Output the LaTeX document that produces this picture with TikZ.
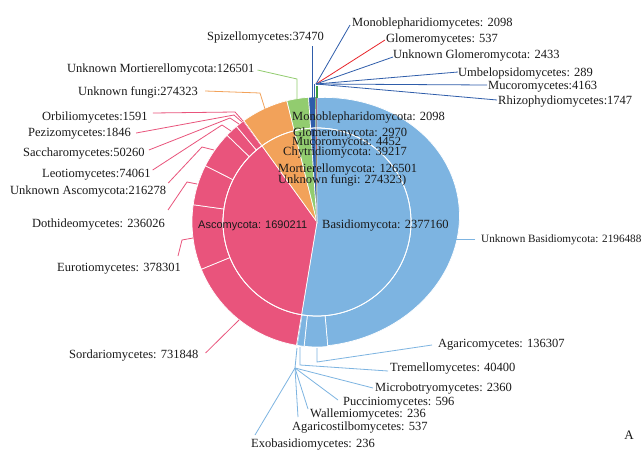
\documentclass[tikz,border=0pt]{standalone}
\usepackage{fontspec}
\setmainfont{Liberation Serif}
\newfontfamily\arialf{Liberation Sans}
\definecolor{pinkc}{HTML}{E9547C}
\definecolor{bluec}{HTML}{7DB4E1}
\definecolor{orangec}{HTML}{F2A25A}
\definecolor{greenc}{HTML}{92CC6F}
\definecolor{dkbluec}{HTML}{2F5DAA}
\definecolor{redc}{HTML}{E8262B}
\definecolor{dkgreenc}{HTML}{3C9B3C}
\definecolor{txtc}{HTML}{1A1A1A}
\newcommand\ringseg[4]{\filldraw[fill=#3,draw=white,line width=0.7pt] (#1:94) -- (#1:#4) arc[start angle=#1,end angle=#2,radius=#4] -- (#2:94) arc[start angle=#2,end angle=#1,radius=94] -- cycle;}
\newcommand\ringtiny[4]{\fill[#3] (#1:94) -- (#1:#4) arc[start angle=#1,end angle=#2,radius=#4] -- (#2:94) arc[start angle=#2,end angle=#1,radius=94] -- cycle;}
\newcommand\pieseg[3]{\filldraw[fill=#3,draw=white,line width=0.7pt] (0,0) -- (#1:94) arc[start angle=#1,end angle=#2,radius=94] -- cycle;}
\newcommand\pietiny[3]{\fill[#3] (0,0) -- (#1:94) arc[start angle=#1,end angle=#2,radius=94] -- cycle;}
\begin{document}
\begin{tikzpicture}[x=1pt,y=-1pt,
  lab/.style={inner sep=0pt,text height=8.3pt,text depth=0pt,anchor=west,text=txtc,font=\fontsize{12.5}{14}\selectfont},
  smalllab/.style={inner sep=0pt,text height=7.5pt,text depth=0pt,anchor=west,text=txtc,font=\fontsize{11.2}{13}\selectfont},
  sanslab/.style={inner sep=0pt,text height=8pt,text depth=0pt,anchor=west,text=txtc,font=\arialf\fontsize{11}{13}\selectfont},
  pinkln/.style={draw=pinkc,line width=0.8pt},
  blueln/.style={draw=bluec,line width=0.8pt},
  orangeln/.style={draw=orangec,line width=0.8pt},
  greenln/.style={draw=greenc,line width=0.8pt},
  dkblueln/.style={draw=dkbluec,line width=0.8pt},
  redln/.style={draw=redc,line width=0.8pt}]
\useasboundingbox[fill=white] (0,0) rectangle (641,450);
% ---------------- pie ----------------
\begin{scope}[shift={(317,222)}]
  % outer ring: Basidiomycota
  \filldraw[fill=bluec,draw=white,line width=0.7pt] (-90:94) -- plot[domain=-90:85.06,samples=90,variable=\t] ({\t}:{124/sqrt((0.867*cos(\t+10))^2+(sin(\t+10))^2)}) -- (85.06:94) arc[start angle=85.06,end angle=-90,radius=94] -- cycle;
  \ringseg{85.06}{95.92}{bluec}{125}
  \ringseg{95.92}{99.14}{bluec}{125}
  \ringtiny{99.14}{99.46}{bluec}{125}
  % outer ring: Ascomycota
  \ringseg{99.46}{157.79}{pinkc}{125}
  \ringseg{157.79}{187.94}{pinkc}{125}
  \ringseg{187.94}{206.75}{pinkc}{125}
  \ringseg{206.75}{223.99}{pinkc}{125}
  \ringseg{223.99}{229.89}{pinkc}{125}
  \ringseg{229.89}{233.90}{pinkc}{125}
  \ringtiny{233.90}{234.17}{pinkc}{125}
  % outer ring: other phyla
  \ringseg{234.17}{256.03}{orangec}{125}
  \ringseg{256.03}{266.12}{greenc}{125}
  \ringseg{266.12}{269.24}{dkbluec}{125}
  \ringtiny{269.24}{269.60}{dkgreenc}{125}
  \ringtiny{269.60}{269.83}{redc}{125}
  \ringtiny{269.83}{270}{dkbluec}{125}
  % inner pie
  \pieseg{-90}{99.46}{bluec}
  \pieseg{99.46}{234.17}{pinkc}
  \pieseg{234.17}{256.03}{orangec}
  \pieseg{256.03}{266.12}{greenc}
  \pieseg{266.12}{269.24}{dkbluec}
  \pietiny{269.24}{269.60}{dkgreenc}
  \pietiny{269.60}{269.83}{redc}
  \pietiny{269.83}{270}{dkbluec}
  \draw[white,line width=0.8pt] (0,0) circle[radius=94];
\end{scope}
% ---------------- centre labels ----------------
\node[sanslab] (asco) at (198,224) {Ascomycota: 1690211};
\node[lab] (basi) at (322,224) {Basidiomycota: 2377160};
\node[lab] (cmono) at (292,116) {Monoblepharidomycota: 2098};
\node[lab] (cglom) at (293,132) {Glomeromycota: 2970};
\node[lab] (cmuco) at (292,141) {Mucoromycota: 4452};
\node[lab] (cchyt) at (283,151) {Chytridiomycota: 39217};
\node[lab] (cmort) at (278,168) {Mortierellomycota: 126501};
\node[lab] (cunk) at (278,179) {Unknown fungi: 274323)};
% ---------------- top labels ----------------
\node[lab] (spiz) at (207,36) {Spizellomycetes:37470};
\node[lab] (mono) at (352,22) {Monoblepharidiomycetes: 2098};
\node[lab] (glomc) at (386,38) {Glomeromycetes: 537};
\node[lab] (unkglom) at (393,54) {Unknown Glomeromycota: 2433};
\node[lab] (umbe) at (458,72) {Umbelopsidomycetes: 289};
\node[lab] (mucc) at (488,85) {Mucoromycetes:4163};
\node[lab] (rhiz) at (498,100) {Rhizophydiomycetes:1747};
\coordinate (topJ) at (316,84);
\coordinate (spizT) at (312,46);
\coordinate (spizP) at (312,99);
\draw[dkblueln] (spizT) -- (spizP);
\draw[dkblueln] (mono.west) ++(-2,3) -- (topJ);
\draw[redln] (glomc.west) ++(-1,2) -- (topJ);
\draw[dkblueln] (unkglom.west) ++(0,3) -- (topJ);
\draw[dkblueln] (umbe.west) -- (topJ);
\draw[dkblueln] (mucc.west) ++(-1,0) -- (topJ);
\draw[dkblueln] (rhiz.west) ++(-1,0) -- (topJ);
\draw[dkblueln] (topJ) ++(-2,0) -- ++(0,14);
\draw[draw=dkgreenc,line width=2pt] (317,86) -- (317,98);
% ---------------- left labels ----------------
\node[lab] (mortl) at (67,68) {Unknown Mortierellomycota:126501};
\node[lab] (unkf) at (78,91) {Unknown fungi:274323};
\node[lab] (orb) at (42,116) {Orbiliomycetes:1591};
\node[lab] (pez) at (28,132) {Pezizomycetes:1846};
\node[lab] (sacc) at (23,152) {Saccharomycetes:50260};
\node[lab] (leot) at (42,173) {Leotiomycetes:74061};
\node[lab] (unka) at (10,190) {Unknown Ascomycota:216278};
\node[lab] (doth) at (32,223) {Dothideomycetes: 236026};
\node[lab] (euro) at (57,267) {Eurotiomycetes: 378301};
\node[lab] (sord) at (69,354) {Sordariomycetes: 731848};
\draw[greenln] (mortl.east) ++(3,2) -- (297,79) -- (297,99);
\draw[orangeln] (unkf.east) ++(7,0) -- (260,93) -- (265,109);
\draw[pinkln] (orb.east) ++(5,-3) -- (235,112) -- (243,121);
\draw[pinkln] (pez.east) ++(5,1) -- (234,115) -- (242,122);
\draw[pinkln] (sacc.east) ++(4,-2) -- (230,118) -- (239,124);
\draw[pinkln] (leot.east) ++(2,-3) -- (222,125) -- (231,131);
\draw[pinkln] (unka.east) ++(2,-7) -- (202,147) -- (214,150);
\draw[pinkln] (doth.east) ++(3,-13) -- (187,182) -- (197,184);
\draw[pinkln] (euro.east) ++(-3,-11) -- (182,240) -- (193,238);
\draw[pinkln] (sord.east) ++(7,-1) -- (239,320);
% ---------------- right / bottom labels ----------------
\node[smalllab] (unkb) at (481,239) {Unknown Basidiomycota: 2196488};
\node[lab] (agar) at (438,343) {Agaricomycetes: 136307};
\node[lab] (trem) at (390,367) {Tremellomycetes: 40400};
\node[lab] (micr) at (375,387) {Microbotryomycetes: 2360};
\node[lab] (pucc) at (343,401) {Pucciniomycetes: 596};
\node[lab] (wall) at (310,413) {Wallemiomycetes: 236};
\node[lab] (agst) at (292,426) {Agaricostilbomycetes: 537};
\node[lab] (exob) at (251,443) {Exobasidiomycetes: 236};
\node[inner sep=0pt,text=txtc,font=\fontsize{13}{15}\selectfont] (panel) at (629,435) {A};
\coordinate (botJ) at (295,368);
\draw[blueln] (unkb.west) ++(-6,0) -- (455,239);
\draw[blueln] (agar.west) ++(-6,2) -- (317,362) -- (317,348);
\draw[blueln] (trem.west) ++(-2,4) -- (300,365) -- (300,347);
\draw[blueln] (botJ) -- (297,348);
\draw[blueln] (micr.west) ++(-2,1) -- (botJ);
\draw[blueln] (pucc.west) ++(-5,-1) -- (botJ);
\draw[blueln] (wall.west) ++(-2,-4) -- (botJ);
\draw[blueln] (agst.west) ++(6,-9) -- (botJ);
\draw[blueln] (exob.west) ++(4,-8) -- (botJ);
\end{tikzpicture}
\end{document}
